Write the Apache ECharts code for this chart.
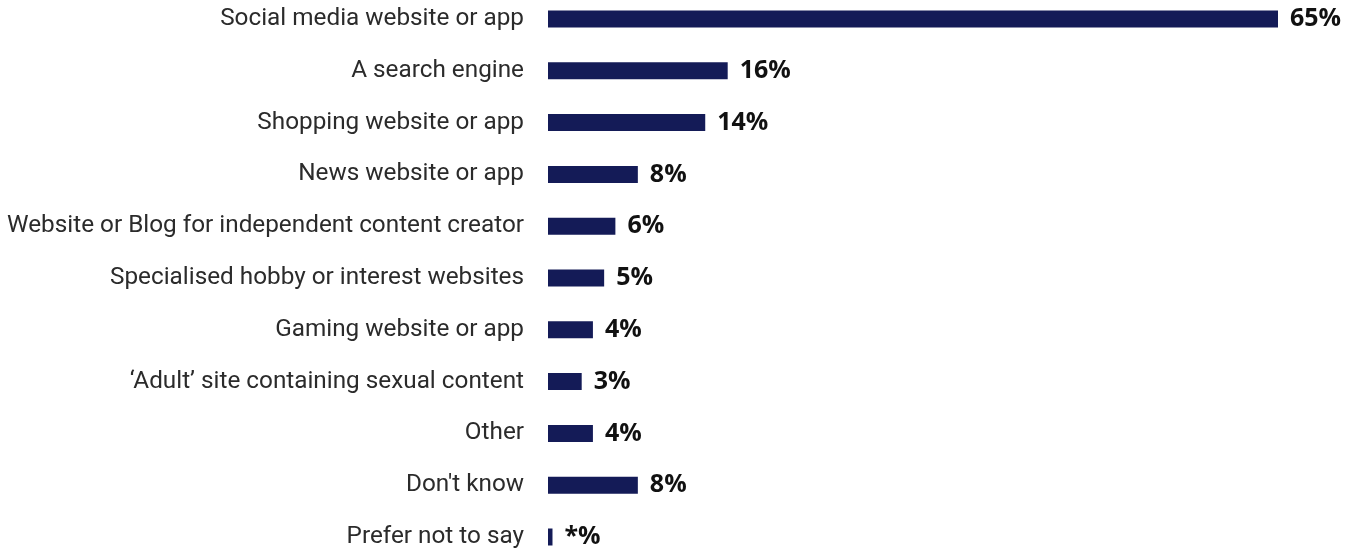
<!DOCTYPE html>
<html>
<head>
<meta charset="utf-8">
<script src="https://cdn.jsdelivr.net/npm/echarts@6/dist/echarts.min.js"></script>
<style>
  html, body { margin: 0; padding: 0; background: #ffffff; }
  #chart { width: 1357px; height: 552px; }
</style>
</head>
<body>
<div id="chart"></div>
<script>
// Where the content was seen (share of respondents, %)
const categories = [
  'Social media website or app',
  'A search engine',
  'Shopping website or app',
  'News website or app',
  'Website or Blog for independent content creator',
  'Specialised hobby or interest websites',
  'Gaming website or app',
  '\u2018Adult\u2019 site containing sexual content',
  'Other',
  "Don't know",
  'Prefer not to say'
];
const values = [65, 16, 14, 8, 6, 5, 4, 3, 4, 8, 0.4];
// "*" marks a share below 0.5%
const valueLabels = ['65%', '16%', '14%', '8%', '6%', '5%', '4%', '3%', '4%', '8%', '*%'];

const chart = echarts.init(document.getElementById('chart'));
chart.setOption({
  animation: false,
  grid: { left: 548, right: 79, top: 19, bottom: 15 },
  xAxis: {
    type: 'value', min: 0, max: 65,
    show: false
  },
  yAxis: {
    type: 'category',
    inverse: true,
    boundaryGap: false,
    data: categories,
    axisLine: { show: false },
    axisTick: { show: false },
    splitLine: { show: false },
    axisLabel: {
      margin: 24,
      fontFamily: 'Roboto',
      fontSize: 24.3,
      color: '#2b2b2b',
      padding: [4, 0, 0, 0]
    }
  },
  series: [{
    type: 'bar',
    data: values,
    barWidth: 17,
    itemStyle: { color: '#141b57' },
    label: {
      show: true,
      position: 'right',
      distance: 12,
      fontFamily: 'Open Sans',
      fontWeight: 'bold',
      fontSize: 25,
      color: '#111111',
      padding: [2, 0, 0, 0],
      formatter: p => valueLabels[p.dataIndex]
    }
  }]
});
</script>
</body>
</html>
